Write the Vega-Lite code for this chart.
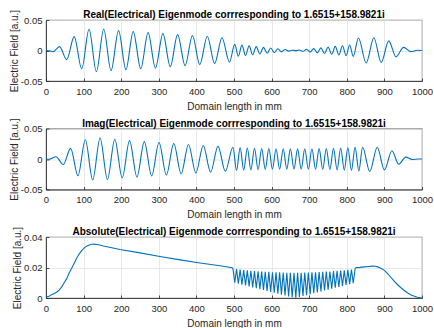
{
  "$schema": "https://vega.github.io/schema/vega-lite/v6.json",
  "padding": {"left": 8, "top": 8, "right": 0, "bottom": 0},
  "spacing": 4.5,
  "config": {
    "font": "Liberation Sans",
    "view": {"stroke": "#262626", "strokeWidth": 0.8},
    "axis": {
      "domainColor": "#262626", "domainWidth": 0.8,
      "tickColor": "#262626", "tickSize": -3, "tickWidth": 0.8,
      "labelColor": "#262626", "labelFont": "Liberation Sans", "labelFontSize": 9.5, "labelPadding": 7,
      "titleColor": "#262626", "titleFont": "Liberation Sans", "titleFontSize": 10, "titleFontWeight": "normal", "titlePadding": 1,
      "gridColor": "#e2e2e2", "gridWidth": 0.8,
      "labelOverlap": false, "labelFlush": false
    },
    "axisX": {"titlePadding": 5.5, "labelPadding": 8},
    "title": {"font": "Liberation Sans", "fontSize": 10, "fontWeight": "bold", "color": "#000000", "offset": -11}
  },
  "datasets": {
    "re": [
      {"x":0,"y":0},{"x":10,"y":-0.0006},{"x":19,"y":-0.002},{"x":36,"y":0.0063},{"x":55,"y":-0.015},{"x":75,"y":0.0227},{"x":95,"y":-0.030},{"x":114.5,"y":0.0348},{"x":134,"y":-0.0347},{"x":153.5,"y":0.0348},{"x":173,"y":-0.033},{"x":193,"y":0.0326},{"x":212.5,"y":-0.0314},{"x":232,"y":0.031},{"x":252,"y":-0.030},{"x":271.5,"y":0.0293},{"x":291,"y":-0.0287},{"x":311,"y":0.0276},{"x":330.5,"y":-0.0266},{"x":350,"y":0.026},{"x":370,"y":-0.0248},{"x":389.5,"y":0.0247},{"x":409,"y":-0.0232},{"x":429,"y":0.0233},{"x":448.5,"y":-0.0215},{"x":468,"y":0.021},{"x":488,"y":-0.019},
      {"x":502,"y":0.0100},{"x":511.55,"y":-0.0094},{"x":521.1,"y":0.0088},{"x":530.65,"y":-0.0082},{"x":540.2,"y":0.0076},{"x":549.75,"y":-0.007},{"x":559.3,"y":0.0064},{"x":568.85,"y":-0.0058},{"x":578.4,"y":0.0052},{"x":587.95,"y":-0.0046},{"x":597.5,"y":0.004},{"x":607.05,"y":-0.0034},{"x":616.6,"y":0.0028},{"x":626.15,"y":-0.0022},{"x":635.7,"y":0.0016},{"x":645.25,"y":-0.001},{"x":654.8,"y":0.0005},{"x":664.35,"y":-0.0002},{"x":673.9,"y":0.0007},{"x":683.45,"y":-0.0013},{"x":693,"y":0.0019},{"x":702.55,"y":-0.0025},{"x":712.1,"y":0.0031},{"x":721.65,"y":-0.0037},{"x":731.2,"y":0.0043},{"x":740.75,"y":-0.0049},{"x":750.3,"y":0.0055},{"x":759.85,"y":-0.0061},{"x":769.4,"y":0.0067},{"x":778.95,"y":-0.0073},{"x":788.5,"y":0.0079},{"x":798.05,"y":-0.0085},{"x":807.6,"y":0.0091},{"x":817.15,"y":-0.0097},
      {"x":831,"y":0.0205},{"x":851.5,"y":-0.0205},{"x":872,"y":0.021},{"x":891.5,"y":-0.0195},{"x":911.5,"y":0.0158},{"x":931,"y":-0.0105},{"x":951,"y":0.0052},{"x":970,"y":-0.0018},{"x":988,"y":0.0003},{"x":1000,"y":0}
    ],
    "im": [
      {"x":0,"y":0},{"x":8,"y":-0.0003},{"x":26.5,"y":0.0037},{"x":46,"y":-0.009},{"x":65.5,"y":0.0175},{"x":85,"y":-0.0275},{"x":104.6,"y":0.0315},{"x":124.2,"y":-0.0345},{"x":143.8,"y":0.0345},{"x":163.4,"y":-0.0335},{"x":183,"y":0.0325},{"x":202.6,"y":-0.031},{"x":222.2,"y":0.0302},{"x":241.8,"y":-0.0295},{"x":261.4,"y":0.0285},{"x":281,"y":-0.0277},{"x":300.6,"y":0.027},{"x":320.2,"y":-0.0262},{"x":339.8,"y":0.0253},{"x":359.4,"y":-0.0245},{"x":379,"y":0.0238},{"x":398.6,"y":-0.023},{"x":418.2,"y":0.0222},{"x":437.8,"y":-0.0215},{"x":457.4,"y":0.0207},{"x":477,"y":-0.02},
      {"x":497.2,"y":0.0192},{"x":506.75,"y":-0.0189},{"x":516.3,"y":0.0186},{"x":525.85,"y":-0.0183},{"x":535.4,"y":0.0181},{"x":544.95,"y":-0.0179},{"x":554.5,"y":0.0177},{"x":564.05,"y":-0.0175},{"x":573.6,"y":0.0173},{"x":583.15,"y":-0.0172},{"x":592.7,"y":0.0171},{"x":602.25,"y":-0.0169},{"x":611.8,"y":0.0168},{"x":621.35,"y":-0.0168},{"x":630.9,"y":0.0167},{"x":640.45,"y":-0.0166},{"x":650,"y":0.0166},{"x":659.55,"y":-0.0166},{"x":669.1,"y":0.0166},{"x":678.65,"y":-0.0166},{"x":688.2,"y":0.0167},{"x":697.75,"y":-0.0167},{"x":707.3,"y":0.0168},{"x":716.85,"y":-0.0169},{"x":726.4,"y":0.017},{"x":735.95,"y":-0.0171},{"x":745.5,"y":0.0173},{"x":755.05,"y":-0.0174},{"x":764.6,"y":0.0176},{"x":774.15,"y":-0.0178},{"x":783.7,"y":0.018},{"x":793.25,"y":-0.0182},{"x":802.8,"y":0.0185},{"x":812.35,"y":-0.0187},
      {"x":822,"y":0.019},{"x":832,"y":-0.0195},{"x":842,"y":0.0192},{"x":861,"y":-0.0205},{"x":881,"y":0.0192},{"x":900,"y":-0.018},{"x":920,"y":0.0135},{"x":938,"y":-0.0085},{"x":957,"y":0.003},{"x":974,"y":-0.0008},{"x":990,"y":0},{"x":1000,"y":0}
    ],
    "ab": [
      {"x":0,"y":0.0007},{"x":8,"y":0.0012},{"x":15,"y":0.0022},{"x":22,"y":0.003},{"x":28.4,"y":0.0038},{"x":35,"y":0.0052},{"x":41.7,"y":0.0073},{"x":48,"y":0.0098},{"x":55,"y":0.0127},{"x":61,"y":0.016},{"x":68,"y":0.0193},{"x":75,"y":0.0228},{"x":81.5,"y":0.026},{"x":88,"y":0.0288},{"x":94.8,"y":0.031},{"x":101,"y":0.0327},{"x":108,"y":0.034},{"x":115,"y":0.0348},{"x":121.5,"y":0.0352},{"x":128,"y":0.0353},{"x":134.8,"y":0.0351},{"x":143,"y":0.0347},{"x":152.5,"y":0.0341},{"x":175,"y":0.033},{"x":197,"y":0.0318},{"x":250,"y":0.0296},{"x":303,"y":0.0272},{"x":356.6,"y":0.025},{"x":409.6,"y":0.023},{"x":462.8,"y":0.0211},{"x":495,"y":0.0198},
      {"x":497.2,"y":0.0192},{"x":502,"y":0.0100},{"x":506.75,"y":0.0189},{"x":511.55,"y":0.0094},{"x":516.3,"y":0.0186},{"x":521.1,"y":0.0088},{"x":525.85,"y":0.0183},{"x":530.65,"y":0.0082},{"x":535.4,"y":0.0181},{"x":540.2,"y":0.0076},{"x":544.95,"y":0.0179},{"x":549.75,"y":0.007},{"x":554.5,"y":0.0177},{"x":559.3,"y":0.0064},{"x":564.05,"y":0.0175},{"x":568.85,"y":0.0058},{"x":573.6,"y":0.0173},{"x":578.4,"y":0.0052},{"x":583.15,"y":0.0172},{"x":587.95,"y":0.0046},{"x":592.7,"y":0.0171},{"x":597.5,"y":0.004},{"x":602.25,"y":0.0169},{"x":607.05,"y":0.0034},{"x":611.8,"y":0.0168},{"x":616.6,"y":0.0028},{"x":621.35,"y":0.0168},{"x":626.15,"y":0.0022},{"x":630.9,"y":0.0167},{"x":635.7,"y":0.0016},{"x":640.45,"y":0.0166},{"x":645.25,"y":0.001},{"x":650,"y":0.0166},{"x":654.8,"y":0.0005},{"x":659.55,"y":0.0166},{"x":664.35,"y":0.0002},{"x":669.1,"y":0.0166},{"x":673.9,"y":0.0007},{"x":678.65,"y":0.0166},{"x":683.45,"y":0.0013},{"x":688.2,"y":0.0167},{"x":693,"y":0.0019},{"x":697.75,"y":0.0167},{"x":702.55,"y":0.0025},{"x":707.3,"y":0.0168},{"x":712.1,"y":0.0031},{"x":716.85,"y":0.0169},{"x":721.65,"y":0.0037},{"x":726.4,"y":0.017},{"x":731.2,"y":0.0043},{"x":735.95,"y":0.0171},{"x":740.75,"y":0.0049},{"x":745.5,"y":0.0173},{"x":750.3,"y":0.0055},{"x":755.05,"y":0.0174},{"x":759.85,"y":0.0061},{"x":764.6,"y":0.0176},{"x":769.4,"y":0.0067},{"x":774.15,"y":0.0178},{"x":778.95,"y":0.0073},{"x":783.7,"y":0.018},{"x":788.5,"y":0.0079},{"x":793.25,"y":0.0182},{"x":798.05,"y":0.0085},{"x":802.8,"y":0.0185},{"x":807.6,"y":0.0091},{"x":812.35,"y":0.0187},{"x":817.15,"y":0.0097},{"x":822,"y":0.0192},
      {"x":825,"y":0.0199},{"x":835,"y":0.0201},{"x":846.6,"y":0.0204},{"x":858,"y":0.0207},{"x":868.8,"y":0.0209},{"x":876,"y":0.0208},{"x":882,"y":0.0204},{"x":889,"y":0.0197},{"x":895,"y":0.0189},{"x":902,"y":0.0176},{"x":908.5,"y":0.016},{"x":917,"y":0.0136},{"x":926,"y":0.011},{"x":935,"y":0.0087},{"x":944,"y":0.0067},{"x":953,"y":0.0049},{"x":962,"y":0.0033},{"x":971,"y":0.002},{"x":980,"y":0.0011},{"x":988,"y":0.0005},{"x":997,"y":0.0001},{"x":1000,"y":0}
    ]
  },
  "vconcat": [
    {
      "title": "Real(Electrical) Eigenmode corrresponding to 1.6515+158.9821i",
      "width": 376, "height": 61,
      "data": {"name": "re"},
      "mark": {"type": "line", "interpolate": "monotone", "color": "#0072BD", "strokeWidth": 1.1},
      "encoding": {
        "x": {"field": "x", "type": "quantitative", "scale": {"domain": [0, 1000], "nice": false, "zero": false},
              "axis": {"values": [0,100,200,300,400,500,600,700,800,900,1000], "labelExpr": "toString(datum.value)", "title": "Domain length in mm"}},
        "y": {"field": "y", "type": "quantitative", "scale": {"domain": [-0.05, 0.05], "nice": false},
              "axis": {"values": [-0.05, 0, 0.05], "labelExpr": "toString(datum.value)", "title": "Electric Field [a.u.]"}}
      }
    },
    {
      "title": "Imag(Electrical) Eigenmode corrresponding to 1.6515+158.9821i",
      "width": 376, "height": 61,
      "data": {"name": "im"},
      "mark": {"type": "line", "interpolate": "monotone", "color": "#0072BD", "strokeWidth": 1.1},
      "encoding": {
        "x": {"field": "x", "type": "quantitative", "scale": {"domain": [0, 1000], "nice": false, "zero": false},
              "axis": {"values": [0,100,200,300,400,500,600,700,800,900,1000], "labelExpr": "toString(datum.value)", "title": "Domain length in mm"}},
        "y": {"field": "y", "type": "quantitative", "scale": {"domain": [-0.05, 0.05], "nice": false},
              "axis": {"values": [-0.05, 0, 0.05], "labelExpr": "toString(datum.value)", "title": "Electric Field [a.u.]"}}
      }
    },
    {
      "title": "Absolute(Electrical) Eigenmode corrresponding to 1.6515+158.9821i",
      "width": 376, "height": 61,
      "data": {"name": "ab"},
      "mark": {"type": "line", "color": "#0072BD", "strokeWidth": 1.1},
      "encoding": {
        "x": {"field": "x", "type": "quantitative", "scale": {"domain": [0, 1000], "nice": false, "zero": false},
              "axis": {"values": [0,100,200,300,400,500,600,700,800,900,1000], "labelExpr": "toString(datum.value)", "title": "Domain length in mm"}},
        "y": {"field": "y", "type": "quantitative", "scale": {"domain": [0, 0.04], "nice": false},
              "axis": {"values": [0, 0.02, 0.04], "labelExpr": "toString(datum.value)", "title": "Electric Field [a.u.]"}}
      }
    }
  ]
}
